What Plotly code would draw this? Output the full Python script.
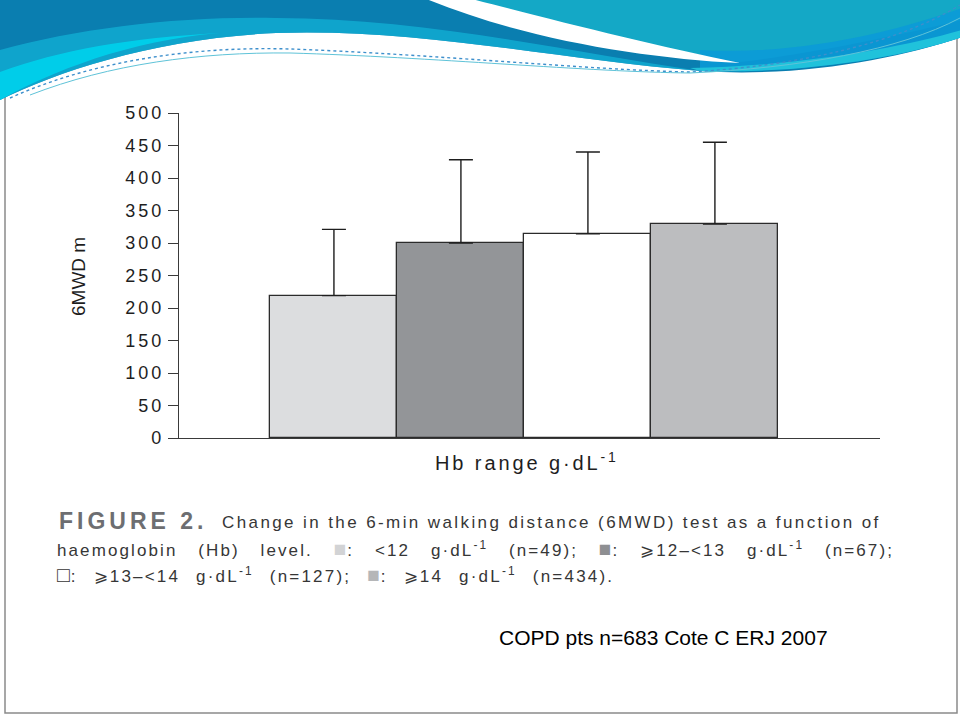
import plotly.graph_objects as go

# ---- data ----
categories = ["<12", ">=12-<13", ">=13-<14", ">=14"]
mean_6mwd = [219, 300, 314, 329]
sd_6mwd = [102, 128, 126, 126]
bar_colors = ["#dcdddf", "#939598", "#ffffff", "#bcbdbf"]
y_tick_vals = [0, 50, 100, 150, 200, 250, 300, 350, 400, 450, 500]

W, H = 960, 716
def X(px):
    return px / W
def Y(py):
    return 1 - py / H

fig = go.Figure()
fig.add_trace(go.Bar(
    x=list(range(len(categories))),
    y=mean_6mwd,
    width=1.0,
    marker=dict(color=bar_colors, line=dict(color="#2b2b2b", width=1.3)),
    error_y=dict(type="data", symmetric=False, array=sd_6mwd,
                 arrayminus=[0] * len(sd_6mwd),
                 color="#1e1e1e", thickness=1.4, width=12),
    hoverinfo="skip",
    showlegend=False,
))

fig.update_layout(
    width=W, height=H,
    margin=dict(l=0, r=0, t=0, b=0, pad=0, autoexpand=False),
    paper_bgcolor="white", plot_bgcolor="rgba(0,0,0,0)",
    bargap=0,
    xaxis=dict(domain=[X(179), X(880)], range=[-1.22, 4.30], automargin=False,
               showticklabels=False, ticks="", showgrid=False, zeroline=False,
               showline=True, linecolor="#3a3a3a", linewidth=1.4, fixedrange=True),
    yaxis=dict(domain=[Y(438), Y(113)], range=[0, 500], automargin=False,
               tickvals=y_tick_vals,
               ticktext=[f"<span style='letter-spacing:3px;font-size:18px'>{v}</span>"
                         for v in y_tick_vals],
               ticks="outside", ticklen=10, tickcolor="#3a3a3a", tickwidth=1.3,
               tickfont=dict(family="Liberation Sans, Arial", size=18, color="#1e1e1e"),
               showgrid=False, zeroline=False,
               showline=True, linecolor="#3a3a3a", linewidth=1.4, fixedrange=True),
)

shapes = []
# slide border
shapes.append(dict(type="rect", xref="paper", yref="paper",
                   x0=X(5), x1=X(957), y0=Y(713), y1=Y(-2),
                   line=dict(color="#8a8a8a", width=1.5), fillcolor="rgba(0,0,0,0)"))

def path(cmds):
    out = []
    for c in cmds:
        if isinstance(c, str):
            out.append(c)
        else:
            out.append(f"{X(c[0]):.5f},{Y(c[1]):.5f}")
    return " ".join(out)

# top wave decoration
shapes.append(dict(type="path", xref="paper", yref="paper", layer="above",
    path=path(["M", (0, -2), "L", (962, -2), "L", (962, 37),
               "C", (900, 58), (800, 78), (700, 71),
               "C", (560, 60), (420, 28), (276, 33),
               "C", (160, 38), (60, 70), (0, 100), "Z"]),
    fillcolor="#0a7eb0", line=dict(width=0)))
shapes.append(dict(type="path", xref="paper", yref="paper", layer="above",
    path=path(["M", (0, 50), "C", (80, 28), (180, 16), (276, 18),
               "C", (420, 18), (560, 50), (700, 71),
               "C", (560, 60), (420, 28), (276, 33),
               "C", (160, 38), (60, 70), (0, 100), "Z"]),
    fillcolor="#12b2d6", opacity=0.75, line=dict(width=0)))
shapes.append(dict(type="path", xref="paper", yref="paper", layer="above",
    path=path(["M", (0, 72), "C", (60, 50), (130, 38), (220, 33),
               "C", (130, 40), (50, 72), (0, 100), "Z"]),
    fillcolor="#00d0ea", opacity=0.95, line=dict(width=0)))
shapes.append(dict(type="path", xref="paper", yref="paper", layer="above",
    path=path(["M", (466, -2), "L", (962, -2), "L", (962, 20),
               "C", (880, 40), (800, 55), (740, 62),
               "C", (640, 45), (540, 20), (466, -2), "Z"]),
    fillcolor="#14a8c6", line=dict(width=0)))
shapes.append(dict(type="path", xref="paper", yref="paper", layer="above",
    path=path(["M", (700, 50), "C", (800, 56), (900, 30), (962, 8),
               "L", (962, 37), "C", (900, 58), (800, 74), (700, 71), "Z"]),
    fillcolor="#0a9ad8", opacity=0.85, line=dict(width=0)))
shapes.append(dict(type="path", xref="paper", yref="paper", layer="above",
    path=path(["M", (690, 68), "C", (800, 66), (900, 48), (962, 30),
               "L", (962, 37), "C", (900, 58), (800, 74), (700, 71), "Z"]),
    fillcolor="#22c6dc", opacity=0.9, line=dict(width=0)))
shapes.append(dict(type="path", xref="paper", yref="paper", layer="above",
    path=path(["M", (424, -2), "C", (520, 38), (640, 58), (740, 63),
               "C", (650, 45), (545, 18), (468, -2), "Z"]),
    fillcolor="white", line=dict(width=0)))
shapes.append(dict(type="path", xref="paper", yref="paper", layer="above",
    path=path(["M", (10, 98), "C", (90, 62), (190, 46), (290, 49),
               "C", (430, 54), (590, 70), (690, 72),
               "C", (800, 66), (900, 42), (960, 5)]),
    line=dict(color="#3d8fcc", width=1.4, dash="dot")))
shapes.append(dict(type="path", xref="paper", yref="paper", layer="above",
    path=path(["M", (30, 95), "C", (110, 64), (200, 52), (290, 53),
               "C", (430, 57), (590, 72), (690, 73),
               "C", (800, 68), (900, 50), (960, 18)]),
    line=dict(color="#5fc3d8", width=1.0)))
fig.update_layout(shapes=shapes)

ann = []
CF = "Liberation Sans, Arial"
def note(text, px, py, size, color, xanchor="left", angle=0):
    ann.append(dict(text=text, x=X(px), y=Y(py), xref="paper", yref="paper",
                    xanchor=xanchor, yanchor="middle", textangle=angle,
                    showarrow=False, font=dict(family=CF, size=size, color=color)))

def sq(ch, color):
    return f"<span style='color:{color};font-size:21px;letter-spacing:1px'>{ch}</span>"

# axis titles
note("6MWD m", 78, 277, 19, "#1e1e1e", xanchor="center", angle=-90)
note("<span style='letter-spacing:2.9px;font-size:20px'>Hb range g·dL<sup>-1</sup></span>",
     527, 462, 20, "#1e1e1e", xanchor="center")

# caption
note("<span style='letter-spacing:4px;font-size:23px;font-weight:bold'>FIGURE 2.</span>",
     57, 521, 23, "#6d6e71")
note("<span style='letter-spacing:2.4px;font-size:17px'>Change in the 6-min walking distance (6MWD) test as a function of</span>",
     220, 522, 17, "#363636")
line2 = ("<span style='letter-spacing:2.1px;word-spacing:14px;font-size:17px'>haemoglobin (Hb) level. "
         + sq("■", "#d2d3d5") + ": &lt;12 g·dL<sup>-1</sup> (n=49); "
         + sq("■", "#8e8f92") + ": ⩾12–&lt;13 g·dL<sup>-1</sup> (n=67);</span>")
note(line2, 55, 548, 17, "#363636")
line3 = ("<span style='letter-spacing:2.2px;word-spacing:9px;font-size:17px'>"
         + sq("□", "#363636") + ": ⩾13–&lt;14 g·dL<sup>-1</sup> (n=127); "
         + sq("■", "#b5b6b8") + ": ⩾14 g·dL<sup>-1</sup> (n=434).</span>")
note(line3, 55, 574, 17, "#363636")

# footer
note("COPD pts n=683 Cote C ERJ 2007", 497, 637, 21, "#000000")
fig.update_layout(annotations=ann)

page_fix = ("document.documentElement.style.margin='0';document.body.style.margin='0';"
            "document.body.style.padding='0';document.documentElement.style.overflow='hidden';"
            "document.body.style.overflow='hidden';")
fig.write_html("out.html", post_script=page_fix, config={"displayModeBar": False})
